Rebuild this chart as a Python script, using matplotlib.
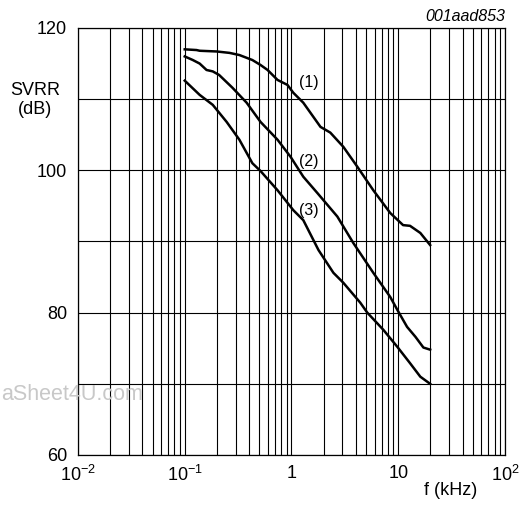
import matplotlib
matplotlib.use("Agg")
import matplotlib.pyplot as plt
from matplotlib.ticker import FixedLocator, NullFormatter

plt.rcParams["font.family"] = ["Liberation Sans", "DejaVu Sans"]
plt.rcParams["mathtext.fontset"] = "custom"
plt.rcParams["mathtext.rm"] = "Liberation Sans"
plt.rcParams["mathtext.it"] = "Liberation Sans:italic"

# curve (1)
f1 = [0.1, 0.129, 0.138, 0.199, 0.263, 0.325, 0.43, 0.513, 0.597, 0.74, 0.917,
      1.04, 1.29, 1.87, 2.31, 3.06, 4.14, 5.84, 8.42, 11.1, 12.9, 16.1, 19.9]
s1 = [117.0, 116.9, 116.8, 116.7, 116.5, 116.2, 115.5, 114.8, 114.1, 112.7, 112.0,
      110.9, 109.5, 106.1, 105.3, 103.3, 100.5, 97.2, 94.0, 92.3, 92.2, 91.2, 89.5]
# curve (2)
f2 = [0.1, 0.119, 0.138, 0.16, 0.183, 0.21, 0.28, 0.38, 0.513, 0.74, 0.98, 1.29,
      1.75, 2.69, 3.79, 5.84, 8.42, 9.8, 12.1, 14.5, 17.2, 19.9]
s2 = [116.0, 115.5, 115.0, 114.1, 113.9, 113.4, 111.6, 109.5, 106.8, 104.3, 101.9, 99.1,
      96.8, 93.5, 89.8, 85.6, 82.2, 80.4, 78.0, 76.6, 75.1, 74.8]
# curve (3)
f3 = [0.1, 0.138, 0.183, 0.247, 0.325, 0.43, 0.513, 0.74, 1.04, 1.29, 1.79, 2.47,
      3.06, 4.41, 5.13, 7.24, 9.8, 12.9, 16.1, 19.9]
s3 = [112.6, 110.6, 109.2, 106.8, 104.3, 101.0, 99.9, 97.2, 94.4, 93.0, 88.8, 85.6,
      84.2, 81.4, 80.0, 77.6, 75.2, 72.9, 71.0, 70.0]

curve_labels = ["(1)", "(2)", "(3)"]
label_f = [1.45, 1.45, 1.45]
label_db = [112.4, 101.3, 94.3]

xticks = [0.01, 0.1, 1, 10, 100]
xticklabels = [r"$10^{-2}$", r"$10^{-1}$", "1", "10", r"$10^{2}$"]
yticks = [60, 80, 100, 120]

fig = plt.figure(figsize=(5.22, 5.07), dpi=100)
ax = fig.add_axes([0.1494, 0.1026, 0.8180, 0.8422])

for f, s in [(f1, s1), (f2, s2), (f3, s3)]:
    ax.plot(f, s, color="black", lw=1.8, zorder=3)

for t, fx, db in zip(curve_labels, label_f, label_db):
    ax.text(fx, db, t, fontsize=11.5, ha="center", va="center", zorder=4)

ax.set_xscale("log")
ax.set_xlim(0.01, 100)
ax.set_ylim(60, 120)

ax.xaxis.set_major_locator(FixedLocator(xticks))
ax.set_xticklabels(xticklabels)
minors = [m * 10.0 ** e for e in range(-2, 2) for m in range(2, 10)]
ax.xaxis.set_minor_locator(FixedLocator(minors))
ax.xaxis.set_minor_formatter(NullFormatter())
ax.set_yticks(yticks)
ax.yaxis.set_minor_locator(FixedLocator([70, 90, 110]))

ax.grid(True, which="both", color="black", lw=0.8)
ax.tick_params(which="both", length=0, labelsize=13)
ax.tick_params(axis="x", pad=7)
ax.tick_params(axis="y", pad=8)
for sp in ax.spines.values():
    sp.set_linewidth(0.9)

fig.text(0.067, 0.803, "SVRR\n(dB)", fontsize=13, ha="center", va="center",
         linespacing=1.1)
fig.text(0.864, 0.032, "f (kHz)", fontsize=13, ha="center", va="center")
fig.text(0.967, 0.967, "001aad853", fontsize=11.5, style="italic", ha="right",
         va="center")
fig.text(0.002, 0.221, "aSheet4U.com", fontsize=15.5, color="#c8c8c8",
         ha="left", va="center", zorder=0)

fig.savefig("out.png", dpi=100)
